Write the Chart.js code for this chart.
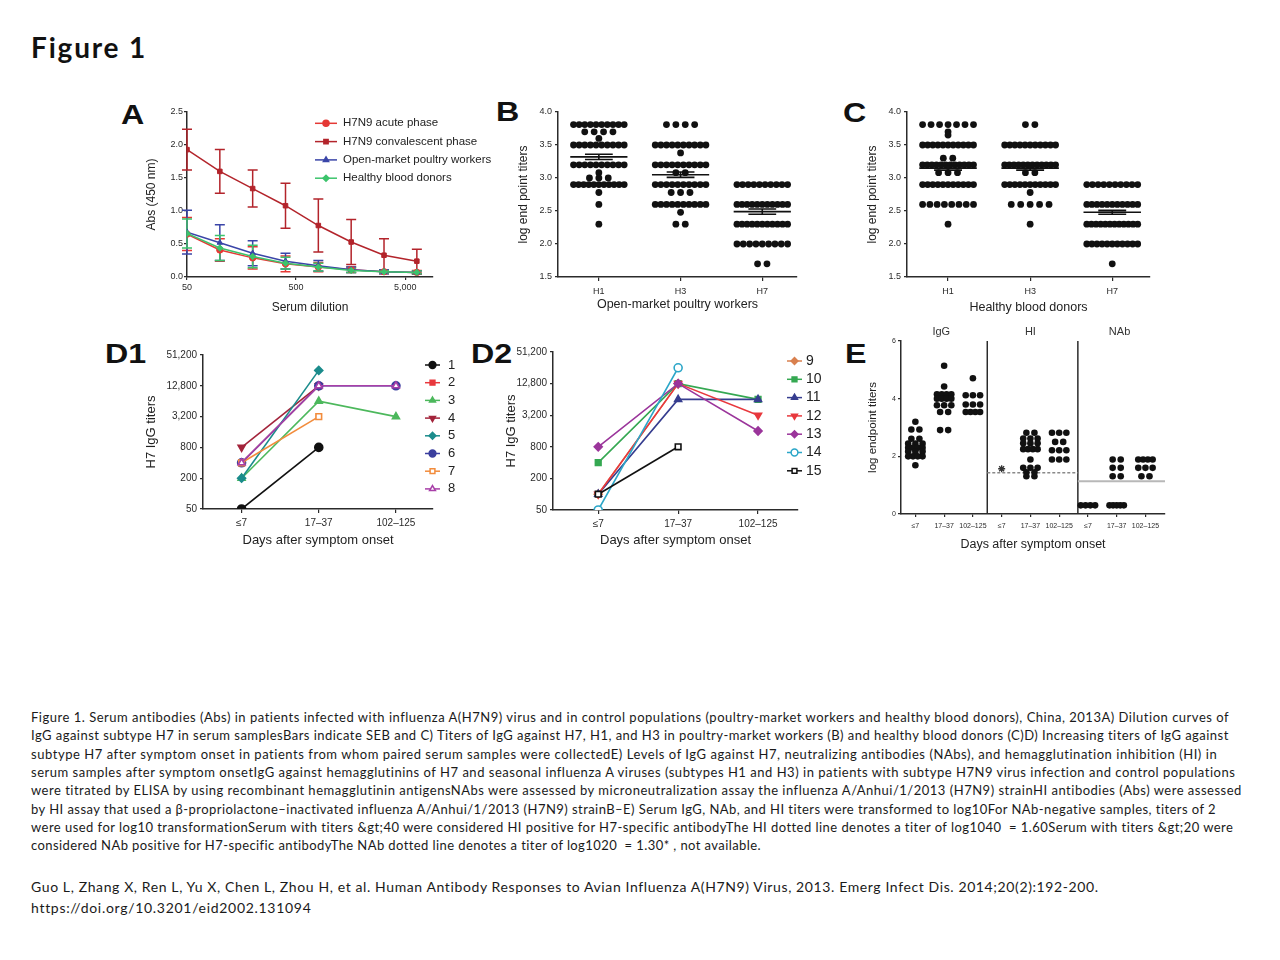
<!DOCTYPE html>
<html><head><meta charset="utf-8">
<script src="https://cdn.jsdelivr.net/npm/chart.js@4.4.1/dist/chart.umd.min.js"></script>
<style>
html,body{margin:0;padding:0;background:#fff}
body{width:1280px;height:960px;position:relative;overflow:hidden}
canvas{position:absolute}
.pl{position:absolute;font-family:"Liberation Sans",Arial,sans-serif;font-weight:bold;font-size:28px;line-height:28px;color:#111;transform:scaleX(1.15);transform-origin:0 0;white-space:nowrap}
.fig{position:absolute;left:31px;top:33px;font-family:Lato,"Open Sans",sans-serif;font-weight:bold;font-size:28px;line-height:28px;color:#111;white-space:nowrap}
.cap{position:absolute;left:31px;font-family:Lato,"Open Sans",sans-serif;font-size:13px;line-height:18.3px;color:#1a1a1a;white-space:nowrap}
.cit{position:absolute;left:31px;font-family:Lato,"Open Sans",sans-serif;font-size:14px;line-height:21px;color:#1a1a1a;white-space:nowrap}
</style></head>
<body>
<div class="fig" data-w="116">Figure 1</div>
<div class="pl" style="left:121px;top:101px">A</div>
<div class="pl" style="left:496px;top:98px">B</div>
<div class="pl" style="left:843px;top:99px">C</div>
<div class="pl" style="left:105px;top:340px">D1</div>
<div class="pl" style="left:471px;top:340px">D2</div>
<div class="pl" style="left:845px;top:340px">E</div>
<canvas id="cA"></canvas><canvas id="cB"></canvas><canvas id="cC"></canvas>
<canvas id="cD1"></canvas><canvas id="cD2"></canvas><canvas id="cE"></canvas>
<div class="cap" style="top:708px"><span data-w="1199">Figure 1. Serum antibodies (Abs) in patients infected with influenza A(H7N9) virus and in control populations (poultry-market workers and healthy blood donors), China, 2013A) Dilution curves of</span></div>
<div class="cap" style="top:726.3px"><span data-w="1198">IgG against subtype H7 in serum samplesBars indicate SEB and C) Titers of IgG against H7, H1, and H3 in poultry-market workers (B) and healthy blood donors (C)D) Increasing titers of IgG against</span></div>
<div class="cap" style="top:744.6px"><span data-w="1187">subtype H7 after symptom onset in patients from whom paired serum samples were collectedE) Levels of IgG against H7, neutralizing antibodies (NAbs), and hemagglutination inhibition (HI) in</span></div>
<div class="cap" style="top:762.9px"><span data-w="1205">serum samples after symptom onsetIgG against hemagglutinins of H7 and seasonal influenza A viruses (subtypes H1 and H3) in patients with subtype H7N9 virus infection and control populations</span></div>
<div class="cap" style="top:781.2px"><span data-w="1212">were titrated by ELISA by using recombinant hemagglutinin antigensNAbs were assessed by microneutralization assay the influenza A/Anhui/1/2013 (H7N9) strainHI antibodies (Abs) were assessed</span></div>
<div class="cap" style="top:799.5px"><span data-w="1186">by HI assay that used a β-propriolactone–inactivated influenza A/Anhui/1/2013 (H7N9) strainB–E) Serum IgG, NAb, and HI titers were transformed to log10For NAb-negative samples, titers of 2</span></div>
<div class="cap" style="top:817.8px"><span data-w="1203">were used for log10 transformationSerum with titers &amp;gt;40 were considered HI positive for H7-specific antibodyThe HI dotted line denotes a titer of log1040&nbsp; = 1.60Serum with titers &amp;gt;20 were</span></div>
<div class="cap" style="top:836.1px"><span data-w="730">considered NAb positive for H7-specific antibodyThe NAb dotted line denotes a titer of log1020&nbsp; = 1.30* , not available.</span></div>
<div class="cit" style="top:876px"><span data-w="1068">Guo L, Zhang X, Ren L, Yu X, Chen L, Zhou H, et al. Human Antibody Responses to Avian Influenza A(H7N9) Virus, 2013. Emerg Infect Dis. 2014;20(2):192-200.</span></div>
<div class="cit" style="top:897px"><span data-w="280">https://doi.org/10.3201/eid2002.131094</span></div>
<script>
// ================= DATA =================
// Panel A: dilution curves (Abs at 450 nm), mean and error
const aDilutions = [50, 100, 200, 400, 800, 1600, 3200, 6400];
const aTickValues = [50, 500, 5000];
const aTickLabels = ['50', '500', '5,000'];
const aSeriesNames = ['H7N9 acute phase', 'H7N9 convalescent phase', 'Open-market poultry workers', 'Healthy blood donors'];
const aAcute = [0.65, 0.41, 0.29, 0.20, 0.15, 0.11, 0.08, 0.07];
const aAcuteErr = [0.25, 0.17, 0.17, 0.12, 0.07, 0.04, 0.03, 0.03];
const aConv = [1.93, 1.60, 1.34, 1.08, 0.78, 0.53, 0.33, 0.24];
const aConvErr = [0.31, 0.33, 0.28, 0.34, 0.40, 0.34, 0.25, 0.18];
const aPoultry = [0.68, 0.52, 0.36, 0.24, 0.17, 0.11, 0.08, 0.07];
const aPoultryErr = [0.33, 0.27, 0.19, 0.12, 0.08, 0.04, 0.03, 0.02];
const aDonors = [0.66, 0.44, 0.31, 0.21, 0.15, 0.10, 0.08, 0.07];
const aDonorsErr = [0.22, 0.19, 0.17, 0.09, 0.06, 0.03, 0.02, 0.02];

// Panels B & C: log end point titers (levels and number of subjects per level)
const bcCategories = ['H1', 'H3', 'H7'];
const bH1Levels = [3.81, 3.70, 3.60, 3.50, 3.20, 3.08, 3.00, 2.90, 2.78, 2.60, 2.30];
const bH1Counts = [10, 4, 1, 10, 10, 1, 3, 11, 1, 1, 1];
const bH3Levels = [3.81, 3.50, 3.38, 3.20, 3.08, 2.90, 2.78, 2.60, 2.48, 2.30];
const bH3Counts = [4, 10, 1, 10, 2, 10, 3, 10, 1, 2];
const bH7Levels = [2.90, 2.60, 2.30, 2.00, 1.70];
const bH7Counts = [10, 11, 11, 9, 2];
const bMeans = [3.32, 3.05, 2.49];
const bSem = [0.04, 0.04, 0.04];
const cH1Levels = [3.81, 3.70, 3.65, 3.50, 3.30, 3.20, 3.08, 2.90, 2.60, 2.30];
const cH1Counts = [7, 1, 1, 11, 2, 12, 3, 11, 8, 1];
const cH3Levels = [3.81, 3.50, 3.20, 3.08, 2.90, 2.78, 2.60, 2.30];
const cH3Counts = [2, 11, 12, 2, 11, 1, 5, 1];
const cH7Levels = [2.90, 2.60, 2.30, 2.00, 1.70];
const cH7Counts = [10, 11, 12, 11, 1];
const cMeans = [3.15, 3.15, 2.48];
const cSem = [0.03, 0.03, 0.03];

// Panels D1 & D2: H7 IgG titers per patient
const dCategories = ['≤7', '17–37', '102–125'];
const dTickValues = [50, 200, 800, 3200, 12800, 51200];
const dTickLabels = ['50', '200', '800', '3,200', '12,800', '51,200'];
const d1P1 = [50, 800, null];
const d1P2 = [400, 12800, null];
const d1P3 = [200, 6400, 3200];
const d1P4 = [800, 12800, null];
const d1P5 = [200, 25600, null];
const d1P6 = [400, 12800, 12800];
const d1P7 = [400, 3200, null];
const d1P8 = [400, 12800, 12800];
const d2P9 = [100, 12800, null];
const d2P10 = [400, 12800, 6400];
const d2P11 = [100, 6400, 6400];
const d2P12 = [100, 12800, 3200];
const d2P13 = [800, 12800, 1600];
const d2P14 = [50, 25600, null];
const d2P15 = [100, 800, null];

// Panel E: log endpoint titers
const eGroups = ['IgG', 'HI', 'NAb'];
const eTickLabels = ['≤7', '17–37', '102–125', '≤7', '17–37', '102–125', '≤7', '17–37', '102–125'];
const eYTicks = [0, 2, 4, 6];
const eIgG7Levels = [3.20, 2.93, 2.61, 2.44, 2.30, 2.17, 2.00, 1.69];
const eIgG7Counts = [1, 2, 2, 3, 4, 3, 4, 1];
const eIgG37Levels = [5.14, 4.42, 4.15, 4.00, 3.77, 3.54, 2.91];
const eIgG37Counts = [1, 1, 4, 4, 3, 2, 2];
const eIgG125Levels = [4.71, 4.12, 3.80, 3.54];
const eIgG125Counts = [1, 3, 3, 4];
const eHI7NotAvailable = [1.57];
const eHI37Levels = [2.82, 2.62, 2.45, 2.25, 1.89, 1.60, 1.45, 1.31];
const eHI37Counts = [2, 3, 3, 4, 1, 3, 2, 2];
const eHI125Levels = [2.82, 2.50, 2.21, 1.89];
const eHI125Counts = [3, 2, 3, 3];
const eNAb7Levels = [0.30];
const eNAb7Counts = [4];
const eNAb37Levels = [1.89, 1.60, 1.31, 0.30];
const eNAb37Counts = [2, 2, 2, 5];
const eNAb125Levels = [1.89, 1.60, 1.31];
const eNAb125Counts = [4, 3, 2];
const eHiCutoff = 1.43;
const eNabCutoff = 1.14;

// ================= HELPERS =================
const FONT = "'Liberation Sans', Arial, sans-serif";
const AX = '#2b2b2b';

function swarm(levels, counts, center, maxStep, maxWidth) {
  const pts = [];
  levels.forEach((v, i) => {
    const n = counts[i];
    const step = n > 1 ? Math.min(maxStep, maxWidth / (n - 1)) : 0;
    for (let k = 0; k < n; k++) pts.push({x: center + (k - (n - 1) / 2) * step, y: v});
  });
  return pts;
}

function axis(fs, tl, pad, titleText, titleSize) {
  return {
    border: {display: true, color: AX, width: 1.5},
    grid: {display: true, drawOnChartArea: false, drawTicks: true, tickLength: tl, color: AX, lineWidth: 1.2},
    ticks: {color: '#2a2a2a', font: {family: FONT, size: fs}, padding: pad, autoSkip: false, maxRotation: 0, minRotation: 0},
    title: {display: true, text: titleText, color: '#222', font: {family: FONT, size: titleSize}}
  };
}

function build(id, box, plot, titles, cfg) {
  const cv = document.getElementById(id);
  cv.width = box.r - box.l; cv.height = box.b - box.t;
  cv.style.left = box.l + 'px'; cv.style.top = box.t + 'px';
  const o = cfg.options;
  o.responsive = false; o.animation = false; o.devicePixelRatio = 1;
  o.layout = {padding: {left: 0, top: plot.t - box.t, right: box.r - plot.r, bottom: 0}};
  o.plugins = Object.assign({legend: {display: false}, tooltip: {enabled: false}}, o.plugins || {});
  const xs = o.scales.x, ys = o.scales.y;
  xs.afterFit = s => { s.height = box.b - plot.b; };
  ys.afterFit = s => { s.width = plot.l - box.l; };
  const xlh = xs.title.font.size * 1.2, ylh = ys.title.font.size * 1.2;
  xs.title.padding = {top: 0, bottom: (box.b - titles.x) - xlh / 2};
  ys.title.padding = {top: (titles.y - box.l) - ylh / 2, bottom: 0};
  return new Chart(cv, cfg);
}

const errorBars = {
  id: 'errorBars',
  beforeDatasetsDraw(chart) {
    const {ctx, scales: {x, y}} = chart;
    chart.data.datasets.forEach(ds => {
      if (!ds.errors) return;
      ctx.save(); ctx.strokeStyle = ds.borderColor; ctx.lineWidth = 1.5;
      ds.data.forEach((p, i) => {
        const e = ds.errors[i];
        const px = x.getPixelForValue(p.x);
        const y1 = y.getPixelForValue(p.y + e), y0 = y.getPixelForValue(Math.max(p.y - e, 0));
        ctx.beginPath();
        ctx.moveTo(px, y0); ctx.lineTo(px, y1);
        ctx.moveTo(px - 5, y1); ctx.lineTo(px + 5, y1);
        ctx.moveTo(px - 5, y0); ctx.lineTo(px + 5, y0);
        ctx.stroke();
      });
      ctx.restore();
    });
  }
};

const meanBars = {
  id: 'meanBars',
  afterDatasetsDraw(chart, args, o) {
    if (!o || !o.means) return;
    const {ctx, scales: {x, y}} = chart;
    ctx.save(); ctx.strokeStyle = '#111'; ctx.lineWidth = 1.6;
    o.means.forEach((m, i) => {
      const c = i + 1, s = o.sems[i];
      const ym = y.getPixelForValue(m), yt = y.getPixelForValue(m + s), yb = y.getPixelForValue(m - s);
      ctx.beginPath();
      ctx.moveTo(x.getPixelForValue(c - 0.35), ym); ctx.lineTo(x.getPixelForValue(c + 0.35), ym);
      ctx.moveTo(x.getPixelForValue(c), yt); ctx.lineTo(x.getPixelForValue(c), yb);
      ctx.moveTo(x.getPixelForValue(c - 0.17), yt); ctx.lineTo(x.getPixelForValue(c + 0.17), yt);
      ctx.moveTo(x.getPixelForValue(c - 0.17), yb); ctx.lineTo(x.getPixelForValue(c + 0.17), yb);
      ctx.stroke();
    });
    ctx.restore();
  }
};

const lineLegend = {
  id: 'lineLegend',
  afterDraw(chart, args, o) {
    if (!o || o.x == null) return;
    const ctx = chart.ctx;
    const ox = chart.canvas.offsetLeft, oy = chart.canvas.offsetTop;
    ctx.save();
    chart.data.datasets.forEach((ds, i) => {
      const y = o.y + i * o.dy - oy, x0 = o.x - ox;
      ctx.strokeStyle = ds.borderColor; ctx.lineWidth = 1.5;
      ctx.beginPath(); ctx.moveTo(x0, y); ctx.lineTo(x0 + o.len, y); ctx.stroke();
      ctx.fillStyle = ds.pointBackgroundColor; ctx.strokeStyle = ds.borderColor;
      Chart.helpers.drawPoint(ctx, {pointStyle: ds.pointStyle, rotation: ds.pointRotation || 0, radius: o.r, borderWidth: 1.5}, x0 + o.len / 2, y);
      ctx.fillStyle = '#222'; ctx.font = o.size + 'px ' + FONT; ctx.textBaseline = 'middle'; ctx.textAlign = 'left';
      ctx.fillText(ds.label, x0 + o.len + o.gap, y);
    });
    ctx.restore();
  }
};

const eDecor = {
  id: 'eDecor',
  beforeDatasetsDraw(chart, args, o) {
    if (!o || !o.separators) return;
    const {ctx, chartArea: ca, scales: {x, y}} = chart;
    ctx.save();
    ctx.strokeStyle = AX; ctx.lineWidth = 1.5;
    o.separators.forEach(s => { const px = x.getPixelForValue(s); ctx.beginPath(); ctx.moveTo(px, ca.top); ctx.lineTo(px, ca.bottom); ctx.stroke(); });
    ctx.strokeStyle = '#8a8a8a'; ctx.lineWidth = 1.5; ctx.setLineDash([3, 2]);
    let py = y.getPixelForValue(o.hiCut);
    ctx.beginPath(); ctx.moveTo(x.getPixelForValue(o.separators[0]), py); ctx.lineTo(x.getPixelForValue(o.separators[1]), py); ctx.stroke();
    ctx.setLineDash([]); ctx.strokeStyle = '#b8b8b8'; ctx.lineWidth = 2;
    py = y.getPixelForValue(o.nabCut);
    ctx.beginPath(); ctx.moveTo(x.getPixelForValue(o.separators[1]), py); ctx.lineTo(ca.right, py); ctx.stroke();
    ctx.fillStyle = '#333'; ctx.font = '11px ' + FONT; ctx.textAlign = 'center'; ctx.textBaseline = 'middle';
    o.titles.forEach((t, i) => ctx.fillText(t, x.getPixelForValue(o.titleAt[i]), ca.top - 9));
    ctx.restore();
  }
};

// ================= PANEL A =================
function aSeries(name, vals, errs, color, style, order) {
  return {label: name, data: vals.map((v, i) => ({x: aDilutions[i], y: v})), errors: errs,
    borderColor: color, backgroundColor: color, pointBackgroundColor: color, pointBorderColor: color,
    pointStyle: style, pointRadius: 3.2, pointBorderWidth: 1, borderWidth: 1.5, tension: 0, order: order};
}
const axA = axis(9, 3, 2, 'Serum dilution', 12);
axA.type = 'logarithmic'; axA.min = 50; axA.max = 9000;
axA.afterBuildTicks = s => { s.ticks = aTickValues.map(v => ({value: v})); };
axA.ticks.callback = (v, i) => aTickLabels[i];
const ayA = axis(9, 3, 1, 'Abs (450 nm)', 12);
ayA.min = 0; ayA.max = 2.5; ayA.ticks.stepSize = 0.5; ayA.ticks.callback = v => v.toFixed(1);
build('cA', {l: 135, t: 96, r: 505, b: 318}, {l: 187, t: 112, r: 433, b: 277}, {x: 308, y: 152}, {
  type: 'line',
  data: {datasets: [
    aSeries(aSeriesNames[0], aAcute, aAcuteErr, '#e53935', 'circle', 2),
    aSeries(aSeriesNames[1], aConv, aConvErr, '#b3242b', 'rect', 3),
    aSeries(aSeriesNames[2], aPoultry, aPoultryErr, '#3a45a8', 'triangle', 1),
    aSeries(aSeriesNames[3], aDonors, aDonorsErr, '#3cc46c', 'rectRot', 0)
  ]},
  options: {scales: {x: axA, y: ayA}, plugins: {lineLegend: {x: 315, y: 123.3, dy: 18.3, len: 22, gap: 6, r: 3, size: 11.5}}},
  plugins: [errorBars, lineLegend]
});

// ================= PANELS B & C =================
function dotPlot(id, box, plot, titles, xTitle, groups, means, sems, xMax) {
  const axX = axis(9, 4, 5, xTitle, 12.5);
  axX.type = 'linear'; axX.min = 0.5; axX.max = xMax;
  axX.afterBuildTicks = s => { s.ticks = bcCategories.map((c, i) => ({value: i + 1})); };
  axX.ticks.callback = (v, i) => bcCategories[i];
  const axY = axis(9, 3, 3, 'log end point titers', 12);
  axY.min = 1.5; axY.max = 4.0; axY.ticks.stepSize = 0.5; axY.ticks.callback = v => v.toFixed(1);
  const pts = [];
  groups.forEach((g, i) => pts.push(...swarm(g[0], g[1], i + 1, 0.115, 0.62)));
  build(id, box, plot, titles, {
    type: 'scatter',
    data: {datasets: [{data: pts, pointRadius: 3.4, pointBackgroundColor: '#111', pointBorderColor: '#111', pointBorderWidth: 0, showLine: false}]},
    options: {scales: {x: axX, y: axY}, plugins: {meanBars: {means: means, sems: sems}}},
    plugins: [meanBars]
  });
}
dotPlot('cB', {l: 512, t: 96, r: 805, b: 316}, {l: 558, t: 112, r: 797, b: 277}, {x: 305, y: 523.5},
  'Open-market poultry workers', [[bH1Levels, bH1Counts], [bH3Levels, bH3Counts], [bH7Levels, bH7Counts]], bMeans, bSem, 3.425);
dotPlot('cC', {l: 862, t: 96, r: 1160, b: 318}, {l: 907, t: 112, r: 1150, b: 277}, {x: 308, y: 873},
  'Healthy blood donors', [[cH1Levels, cH1Counts], [cH3Levels, cH3Counts], [cH7Levels, cH7Counts]], cMeans, cSem, 3.46);

// ================= PANELS D1 & D2 =================
function dSeries(name, vals, color, style, rot, open, order) {
  return {label: name, data: vals.map((v, i) => ({x: i + 1, y: v})), borderColor: color,
    backgroundColor: open ? '#fff' : color, pointBackgroundColor: open ? '#fff' : color, pointBorderColor: color,
    pointStyle: style, pointRotation: rot, pointRadius: 4, pointBorderWidth: 1.6, borderWidth: 1.6,
    tension: 0, spanGaps: false, order: order};
}
function dChart(id, box, plot, titles, xMin, xMax, datasets, leg) {
  const axX = axis(10, 4, 4, 'Days after symptom onset', 13);
  axX.type = 'linear'; axX.min = xMin; axX.max = xMax;
  axX.afterBuildTicks = s => { s.ticks = dCategories.map((c, i) => ({value: i + 1})); };
  axX.ticks.callback = (v, i) => dCategories[i];
  const axY = axis(10, 3, 3, 'H7 IgG titers', 13);
  axY.type = 'logarithmic'; axY.min = 50; axY.max = 51200;
  axY.afterBuildTicks = s => { s.ticks = dTickValues.map(v => ({value: v})); };
  axY.ticks.callback = (v, i) => dTickLabels[i];
  build(id, box, plot, titles, {
    type: 'line', data: {datasets: datasets},
    options: {scales: {x: axX, y: axY}, plugins: {lineLegend: leg}},
    plugins: [lineLegend]
  });
}
dChart('cD1', {l: 140, t: 340, r: 470, b: 552}, {l: 203, t: 355, r: 433, b: 509}, {x: 540, y: 151}, 0.5, 3.48, [
  dSeries('1', d1P1, '#111111', 'circle', 0, false, 7),
  dSeries('2', d1P2, '#e8383d', 'rect', 0, false, 6),
  dSeries('3', d1P3, '#4cb85c', 'triangle', 0, false, 5),
  dSeries('4', d1P4, '#a3243b', 'triangle', 180, false, 4),
  dSeries('5', d1P5, '#1b8c8c', 'rectRot', 0, false, 3),
  dSeries('6', d1P6, '#3b3f9e', 'circle', 0, false, 2),
  dSeries('7', d1P7, '#f28c3c', 'rect', 0, true, 1),
  dSeries('8', d1P8, '#a83fa8', 'triangle', 0, true, 0)
], {x: 425, y: 365, dy: 17.7, len: 15, gap: 8, r: 3.4, size: 13});
dChart('cD2', {l: 500, t: 338, r: 835, b: 552}, {l: 553, t: 352, r: 798, b: 510}, {x: 540, y: 511.5}, 0.434, 3.5, [
  dSeries('9', d2P9, '#d9804f', 'rectRot', 0, false, 6),
  dSeries('10', d2P10, '#35a852', 'rect', 0, false, 5),
  dSeries('11', d2P11, '#363d8f', 'triangle', 0, false, 4),
  dSeries('12', d2P12, '#e8383d', 'triangle', 180, false, 3),
  dSeries('13', d2P13, '#9b359b', 'rectRot', 0, false, 2),
  dSeries('14', d2P14, '#2ba6c8', 'circle', 0, true, 1),
  dSeries('15', d2P15, '#111111', 'rect', 0, true, 0)
], {x: 787, y: 361, dy: 18.3, len: 15, gap: 4, r: 3.4, size: 14});

// ================= PANEL E =================
(function () {
  const cols = [[eIgG7Levels, eIgG7Counts], [eIgG37Levels, eIgG37Counts], [eIgG125Levels, eIgG125Counts],
    [[], []], [eHI37Levels, eHI37Counts], [eHI125Levels, eHI125Counts],
    [eNAb7Levels, eNAb7Counts], [eNAb37Levels, eNAb37Counts], [eNAb125Levels, eNAb125Counts]];
  const pts = [];
  cols.forEach((c, i) => pts.push(...swarm(c[0], c[1], i + 1, 0.28, 0.5)));
  const axX = axis(7, 3, 5, 'Days after symptom onset', 12.5);
  axX.type = 'linear'; axX.min = 0.5; axX.max = 9.68;
  axX.afterBuildTicks = s => { s.ticks = eTickLabels.map((c, i) => ({value: i + 1})); };
  axX.ticks.callback = (v, i) => eTickLabels[i];
  const axY = axis(7, 3, 2, 'log endpoint titers', 11.5);
  axY.min = 0; axY.max = 6;
  axY.afterBuildTicks = s => { s.ticks = eYTicks.map(v => ({value: v})); };
  axY.ticks.callback = (v, i) => String(eYTicks[i]);
  build('cE', {l: 860, t: 315, r: 1180, b: 556}, {l: 901, t: 341, r: 1165, b: 514}, {x: 545, y: 873}, {
    type: 'scatter',
    data: {datasets: [
      {data: pts, pointRadius: 3.3, pointBackgroundColor: '#111', pointBorderColor: '#111', pointBorderWidth: 0, showLine: false},
      {data: eHI7NotAvailable.map(v => ({x: 4, y: v})), pointStyle: 'star', pointRadius: 3.5, pointBorderColor: '#333', pointBorderWidth: 1.3, showLine: false}
    ]},
    options: {scales: {x: axX, y: axY}, plugins: {eDecor: {separators: [3.5, 6.65], hiCut: eHiCutoff, nabCut: eNabCutoff, titles: eGroups, titleAt: [1.9, 5, 8.1]}}},
    plugins: [eDecor]
  });
})();

// ================= TEXT WIDTH FITTING =================
function fitText() {
  document.querySelectorAll('[data-w]').forEach(el => {
    el.style.letterSpacing = '0px';
    const w = el.getBoundingClientRect().width;
    const n = el.textContent.length;
    el.style.letterSpacing = ((+el.dataset.w - w) / n) + 'px';
  });
}
fitText();
if (document.fonts && document.fonts.ready) document.fonts.ready.then(fitText);
</script>
</body></html>
